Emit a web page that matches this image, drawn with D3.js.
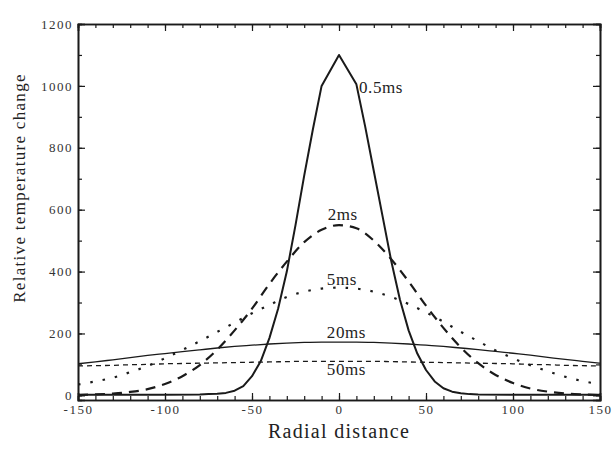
<!DOCTYPE html>
<html>
<head>
<meta charset="utf-8">
<script src="https://cdn.jsdelivr.net/npm/d3@7"></script>
<style>
  body { margin: 0; background: #fff; }
  svg { display: block; font-family: "Liberation Serif", "DejaVu Serif", serif; }
</style>
</head>
<body>
<div id="chart"></div>
<script>
'use strict';

// radial distance samples
const radial = [-150, -140, -130, -120, -110, -100, -90, -80, -70, -60, -50, -40, -30, -20, -10,
    0, 10, 20, 30, 40, 50, 60, 70, 80, 90, 100, 110, 120, 130, 140, 150];
// the 0.5ms curve is read at a finer step near the peak
const radialFine = [-150, -100, -80, -75, -70, -65, -60, -55, -50, -45, -40, -35, -30, -25, -20, -15, -10,
    0, 10, 15, 20, 25, 30, 35, 40, 45, 50, 55, 60, 65, 70, 75, 80, 100, 150];

// relative temperature change
const t05 = [2, 2, 3, 4, 5, 8, 15, 30, 62, 110, 185, 280, 400, 550, 710, 860, 1000,
    1100, 1005, 870, 725, 580, 435, 310, 210, 135, 82, 45, 23, 12, 7, 4, 3, 2, 2];
const t2 = [1, 3, 6, 11, 20, 37, 62, 98, 148, 210, 280, 360, 432, 495, 535,
    550, 540, 500, 440, 368, 290, 218, 155, 104, 66, 40, 22, 12, 6, 3, 1];
const t5 = [35, 45, 57, 75, 95, 120, 147, 175, 205, 235, 265, 292, 318, 335, 345,
    348, 345, 335, 318, 295, 268, 238, 205, 175, 145, 120, 97, 78, 60, 46, 36];
const t20 = [102, 108, 115, 122, 129, 135, 141, 147, 153, 158, 162, 166, 169, 171, 172,
    172, 172, 171, 169, 166, 162, 158, 153, 148, 142, 136, 130, 123, 116, 110, 104];
const t50 = [95, 96, 97, 99, 100, 102, 103, 104, 105, 106, 107, 108, 109, 110, 110,
    110, 110, 110, 109, 108, 107, 106, 105, 104, 103, 102, 100, 99, 97, 96, 95];

const seriesNames = ["0.5ms", "2ms", "5ms", "20ms", "50ms"];
const seriesX = [radialFine, radial, radial, radial, radial];
const seriesValues = [t05, t2, t5, t20, t50];

// label anchors in data units (left edge of text, baseline)
const labelX = [11.5, -6.5, -7, -7, -7];
const labelY = [977, 567, 357, 185, 66];

const xTicks = [-150, -100, -50, 0, 50, 100, 150];
const yTicks = [0, 200, 400, 600, 800, 1000, 1200];

const width = 615;
const height = 450;
const margin = { top: 24, right: 15, bottom: 50, left: 78 };

const svg = d3.select("#chart")
    .append("svg")
    .attr("width", width)
    .attr("height", height);

const x = d3.scaleLinear().domain([-150, 150]).range([margin.left, width - margin.right]);
const y = d3.scaleLinear().domain([-15, 1200]).range([height - margin.bottom, margin.top]);

const ink = "#1a1a1a";
const xMinor = d3.range(-150, 151, 10);
const yMinor = d3.range(0, 1201, 100);
const plain = d => String(d);

function styleAxis(g) {
    g.attr("font-family", "Liberation Serif, serif");
    g.select(".domain").attr("stroke", ink).attr("stroke-width", 1.6);
    g.selectAll(".tick line").attr("stroke", ink).attr("stroke-width", 1.2);
    g.selectAll(".tick text")
        .attr("fill", "#333")
        .attr("font-size", 13)
        .attr("letter-spacing", 1.5);
}

// minor ticks (inside)
svg.append("g")
    .attr("transform", `translate(0,${y.range()[0]})`)
    .call(d3.axisBottom(x).tickValues(xMinor).tickSize(-4).tickFormat(""))
    .call(styleAxis);
svg.append("g")
    .attr("transform", `translate(0,${margin.top})`)
    .call(d3.axisTop(x).tickValues(xMinor).tickSize(-4).tickFormat(""))
    .call(styleAxis);
svg.append("g")
    .attr("transform", `translate(${margin.left},0)`)
    .call(d3.axisLeft(y).tickValues(yMinor).tickSize(-4).tickFormat(""))
    .call(styleAxis);
svg.append("g")
    .attr("transform", `translate(${width - margin.right},0)`)
    .call(d3.axisRight(y).tickValues(yMinor).tickSize(-4).tickFormat(""))
    .call(styleAxis);

// major ticks
svg.append("g")
    .attr("transform", `translate(0,${y.range()[0]})`)
    .call(d3.axisBottom(x).tickValues(xTicks).tickSize(-7).tickFormat(plain))
    .call(styleAxis)
    .selectAll(".tick text").attr("y", 5);

svg.append("g")
    .attr("transform", `translate(0,${margin.top})`)
    .call(d3.axisTop(x).tickValues(xTicks).tickSize(-7).tickFormat(""))
    .call(styleAxis);

svg.append("g")
    .attr("transform", `translate(${margin.left},0)`)
    .call(d3.axisLeft(y).tickValues(yTicks).tickSize(-7).tickFormat(plain))
    .call(styleAxis)
    .selectAll(".tick text").attr("x", -5);

svg.append("g")
    .attr("transform", `translate(${width - margin.right},0)`)
    .call(d3.axisRight(y).tickValues(yTicks).tickSize(-7).tickFormat(""))
    .call(styleAxis);

// curves
const styles = [
    { w: 2.0, dash: null, curve: d3.curveLinear },
    { w: 2.2, dash: "10,7", curve: d3.curveMonotoneX },
    { w: 2.2, dash: "2.5,10", curve: d3.curveMonotoneX },
    { w: 1.3, dash: null, curve: d3.curveMonotoneX },
    { w: 1.3, dash: "5,4", curve: d3.curveMonotoneX }
];

svg.append("clipPath").attr("id", "plot-clip")
    .append("rect")
    .attr("x", margin.left).attr("y", margin.top)
    .attr("width", x.range()[1] - x.range()[0])
    .attr("height", y.range()[0] - y.range()[1]);

seriesValues.forEach((vals, i) => {
    const line = d3.line()
        .x(d => x(d[0]))
        .y(d => y(d[1]))
        .curve(styles[i].curve);
    svg.append("path")
        .datum(seriesX[i].map((r, j) => [r, vals[j]]))
        .attr("clip-path", "url(#plot-clip)")
        .attr("fill", "none")
        .attr("stroke", ink)
        .attr("stroke-width", styles[i].w)
        .attr("stroke-dasharray", styles[i].dash)
        .attr("stroke-linejoin", "round")
        .attr("d", line);
});

// series labels
svg.selectAll(".series-label")
    .data(seriesNames)
    .join("text")
    .attr("class", "series-label")
    .attr("x", (d, i) => x(labelX[i]))
    .attr("y", (d, i) => y(labelY[i]))
    .attr("font-size", 17)
    .attr("letter-spacing", 0.6)
    .attr("fill", "#222")
    .text(d => d);

// axis titles
svg.append("text")
    .attr("x", (x.range()[0] + x.range()[1]) / 2)
    .attr("y", 438)
    .attr("text-anchor", "middle")
    .attr("font-size", 20)
    .attr("letter-spacing", 1.3)
    .attr("fill", "#222")
    .text("Radial distance");

svg.append("text")
    .attr("transform", "translate(25,188) rotate(-90)")
    .attr("text-anchor", "middle")
    .attr("font-size", 17)
    .attr("letter-spacing", 1.3)
    .attr("fill", "#222")
    .text("Relative temperature change");
</script>
</body>
</html>
